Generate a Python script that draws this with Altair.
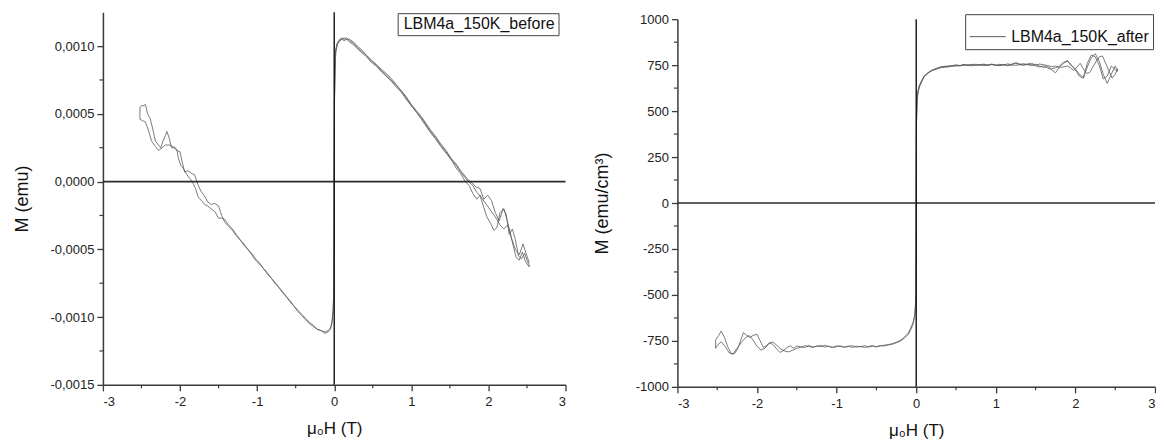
import altair as alt
import pandas as pd

FONT = "Liberation Sans"

# ---------------- Left panel: M (emu), values in units of 1e-4 emu ----------------
L_INIT_H = [0.003, 0.01, 0.02, 0.04, 0.07, 0.1, 0.13, 0.16, 0.2, 0.25, 0.3, 0.36, 0.42, 0.48, 0.55, 0.61,
            0.67, 0.74, 0.8, 0.87, 0.93, 1.0, 1.07, 1.13, 1.19, 1.25, 1.32, 1.38, 1.45, 1.52, 1.58, 1.64,
            1.70, 1.75, 1.80, 1.85, 1.89, 1.94, 1.98, 2.03, 2.07, 2.11, 2.15, 2.2, 2.24, 2.28, 2.32, 2.36,
            2.40, 2.44, 2.48, 2.53]
L_INIT_M = [5.5, 8.3, 9.6, 10.1, 10.4, 10.5, 10.4, 10.5, 10.3, 10.1, 9.8, 9.5, 9.2, 8.8, 8.5, 8.1,
            7.8, 7.4, 7.0, 6.6, 6.1, 5.6, 5.1, 4.6, 4.1, 3.6, 3.1, 2.6, 2.1, 1.6, 1.0, 0.6,
            0.0, -0.3, -0.9, -1.3, -1.0, -1.9, -2.6, -3.1, -3.6, -3.4, -2.3, -2.0, -2.8, -3.7, -4.7, -5.6,
            -5.8, -5.2, -5.9, -6.3]

L_DOWN_H = [2.53, 2.50, 2.47, 2.43, 2.39, 2.35, 2.31, 2.27, 2.23, 2.19, 2.14, 2.09, 2.04, 1.99, 1.94, 1.89,
            1.84, 1.79, 1.74, 1.70, 1.64, 1.58, 1.52, 1.45, 1.38, 1.32, 1.25, 1.19, 1.13, 1.07, 1.0, 0.93,
            0.87, 0.8, 0.74, 0.67, 0.61, 0.55, 0.48, 0.42, 0.36, 0.3, 0.25, 0.2, 0.16, 0.13, 0.1, 0.07,
            0.04, 0.02, 0.01, 0.003,
            -0.005, -0.015, -0.03, -0.05, -0.08, -0.12, -0.17, -0.22, -0.27, -0.32, -0.37, -0.42, -0.47, -0.52,
            -0.57, -0.62, -0.67, -0.72, -0.77, -0.82, -0.87, -0.92, -0.97, -1.02, -1.07, -1.12, -1.17, -1.22,
            -1.27, -1.32, -1.37, -1.42, -1.46, -1.50, -1.55, -1.60, -1.64, -1.68, -1.72, -1.76, -1.80, -1.84,
            -1.87, -1.91, -1.96, -1.99, -2.02, -2.04, -2.06, -2.10, -2.14, -2.19, -2.23, -2.28, -2.32, -2.37,
            -2.41, -2.45, -2.49, -2.52]
L_DOWN_M = [-6.2, -5.8, -5.3, -5.7, -5.5, -4.3, -3.5, -3.9, -2.4, -2.0, -2.9, -2.3, -1.4, -1.0, -1.3, -0.5,
            -0.4, -0.1, 0.1, 0.4, 0.8, 1.3, 1.7, 2.3, 2.8, 3.3, 3.8, 4.3, 4.8, 5.2, 5.7, 6.3,
            6.7, 7.2, 7.6, 8.0, 8.3, 8.6, 9.0, 9.3, 9.7, 10.0, 10.3, 10.5, 10.5, 10.6, 10.5, 10.4,
            10.2, 9.6, 8.0, 6.0,
            -8.2, -9.6, -10.5, -10.9, -11.1, -11.2, -11.0, -10.9, -10.6, -10.4, -10.1, -9.8, -9.5, -9.2,
            -8.8, -8.5, -8.1, -7.8, -7.4, -7.1, -6.7, -6.4, -6.0, -5.7, -5.3, -5.0, -4.6, -4.3,
            -3.9, -3.5, -3.2, -2.8, -2.7, -2.7, -2.2, -2.0, -1.8, -1.7, -1.4, -1.2, -0.5, 0.0,
            0.2, 0.5, 1.0, 1.2, 1.7, 2.3, 2.5, 2.6, 2.7, 2.7, 2.5, 2.3, 2.6, 3.0,
            3.8, 4.4, 4.5, 4.6]

L_UP_H = [-2.52, -2.50, -2.47, -2.45, -2.42, -2.39, -2.35, -2.32, -2.28, -2.25, -2.22, -2.19, -2.17, -2.14,
          -2.11, -2.08, -2.04, -2.00, -1.97, -1.94, -1.90, -1.85, -1.81, -1.77, -1.73, -1.69, -1.64, -1.59,
          -1.55, -1.50, -1.46, -1.42, -1.37, -1.32, -1.27, -1.22, -1.17, -1.12, -1.07, -1.02, -0.97, -0.92,
          -0.87, -0.82, -0.77, -0.72, -0.67, -0.62, -0.57, -0.52, -0.47, -0.42, -0.37, -0.32, -0.27, -0.22,
          -0.17, -0.12, -0.08, -0.05, -0.03, -0.015, -0.005,
          0.003, 0.01, 0.02, 0.04, 0.07, 0.1, 0.13, 0.16, 0.2, 0.25, 0.3, 0.36, 0.42, 0.48, 0.55, 0.61,
          0.67, 0.74, 0.8, 0.87, 0.93, 1.0, 1.07, 1.13, 1.19, 1.25, 1.32, 1.38, 1.45, 1.52, 1.58, 1.64,
          1.71, 1.76, 1.80, 1.85, 1.90, 1.95, 2.0, 2.05, 2.1, 2.15, 2.2, 2.25, 2.3, 2.35, 2.4, 2.45, 2.5, 2.53]
L_UP_M = [5.5, 5.6, 5.6, 5.7, 5.0, 4.7, 3.8, 3.0, 2.7, 2.5, 3.0, 3.4, 3.7, 3.2,
          2.5, 2.5, 2.3, 2.2, 1.4, 0.7, 0.8, 0.6, 0.5, -0.2, -0.7, -1.0, -1.5, -1.7,
          -1.6, -1.8, -2.5, -3.0, -3.3, -3.6, -4.0, -4.3, -4.7, -5.0, -5.4, -5.8, -6.1, -6.4,
          -6.8, -7.1, -7.5, -7.8, -8.2, -8.5, -8.9, -9.2, -9.6, -9.9, -10.2, -10.5, -10.7, -10.9,
          -11.0, -11.1, -11.0, -10.8, -10.4, -9.5, -8.0,
          6.0, 8.6, 9.8, 10.2, 10.5, 10.6, 10.5, 10.6, 10.4, 10.2, 9.9, 9.6, 9.3, 8.9, 8.6, 8.2,
          7.9, 7.5, 7.1, 6.7, 6.2, 5.6, 5.1, 4.7, 4.2, 3.7, 3.2, 2.7, 2.2, 1.6, 1.2, 0.7,
          0.2, -0.1, -0.3, -0.8, -1.1, -1.5, -1.9, -2.3, -2.7, -3.2, -3.5, -3.2, -4.2, -5.0, -5.4, -4.6, -5.5, -6.0]

# ---------------- Right panel: M (emu/cm^3) ----------------
R_INIT_H = [0.003, 0.01, 0.02, 0.04, 0.07, 0.1, 0.15, 0.2, 0.25, 0.3, 0.35, 0.4, 0.45, 0.5, 0.55, 0.6,
            0.65, 0.7, 0.75, 0.8, 0.85, 0.9, 0.95, 1.0, 1.05, 1.1, 1.15, 1.2, 1.25, 1.3, 1.35, 1.4,
            1.45, 1.5, 1.55, 1.6, 1.65, 1.7, 1.75, 1.8, 1.85, 1.9, 1.95, 2.0, 2.05, 2.1, 2.15, 2.2,
            2.25, 2.3, 2.35, 2.4, 2.45, 2.5, 2.53]
R_INIT_M = [420, 540, 600, 635, 665, 690, 710, 722, 732, 738, 744, 742, 748, 750, 746, 753,
            750, 755, 748, 752, 756, 749, 753, 751, 747, 752, 749, 756, 760, 754, 758, 752,
            748, 755, 745, 738, 742, 730, 736, 745, 765, 775, 750, 728, 700, 685, 740, 790,
            812, 770, 700, 650, 700, 745, 720]

R_DOWN_H = [2.53, 2.5, 2.46, 2.42, 2.38, 2.34, 2.3, 2.26, 2.22, 2.18, 2.14, 2.1, 2.06, 2.02, 1.98, 1.94,
            1.9, 1.85, 1.8, 1.75, 1.7, 1.65, 1.6, 1.55, 1.5, 1.45, 1.4, 1.35, 1.3, 1.25, 1.2, 1.15,
            1.1, 1.05, 1.0, 0.95, 0.9, 0.85, 0.8, 0.75, 0.7, 0.65, 0.6, 0.55, 0.5, 0.45, 0.4, 0.35,
            0.3, 0.25, 0.2, 0.15, 0.1, 0.07, 0.04, 0.02, 0.01, 0.003,
            -0.003, -0.01, -0.02, -0.04, -0.07, -0.1, -0.15, -0.2, -0.25, -0.3, -0.35, -0.4, -0.45, -0.5,
            -0.55, -0.6, -0.65, -0.7, -0.75, -0.8, -0.85, -0.9, -0.95, -1.0, -1.05, -1.1, -1.15, -1.2,
            -1.25, -1.3, -1.35, -1.4, -1.45, -1.5, -1.55, -1.6, -1.65, -1.7, -1.75, -1.8, -1.85, -1.9,
            -1.95, -2.0, -2.05, -2.1, -2.15, -2.2, -2.25, -2.3, -2.35, -2.4, -2.45, -2.5, -2.52]
R_DOWN_M = [730, 700, 680, 720, 760, 800, 795, 770, 740, 710, 705, 730, 760, 740, 720, 735,
            745, 740, 738, 745, 742, 748, 752, 756, 750, 760, 755, 750, 752, 749, 751, 746,
            753, 750, 748, 754, 751, 747, 753, 750, 746, 752, 749, 747, 745, 744, 740, 738,
            735, 728, 720, 708, 690, 668, 640, 605, 560, 460,
            -480, -570, -620, -660, -690, -715, -735, -752, -760, -768, -772, -778, -775, -782,
            -778, -784, -776, -783, -779, -786, -778, -784, -781, -777, -785, -780, -774, -782,
            -778, -786, -780, -776, -785, -790, -800, -810, -805, -795, -775, -755, -765, -790,
            -800, -780, -745, -720, -735, -760, -790, -820, -815, -780, -755, -775, -790]

R_UP_H = [-2.52, -2.48, -2.45, -2.41, -2.37, -2.32, -2.28, -2.24, -2.2, -2.17, -2.13, -2.09, -2.05, -2.0,
          -1.96, -1.92, -1.88, -1.84, -1.8, -1.75, -1.71, -1.66, -1.62, -1.58, -1.54, -1.5, -1.45, -1.4,
          -1.35, -1.3, -1.25, -1.2, -1.15, -1.1, -1.05, -1.0, -0.95, -0.9, -0.85, -0.8, -0.75, -0.7,
          -0.65, -0.6, -0.55, -0.5, -0.45, -0.4, -0.35, -0.3, -0.25, -0.2, -0.15, -0.1, -0.07, -0.04,
          -0.02, -0.01, -0.003,
          0.003, 0.01, 0.02, 0.04, 0.07, 0.1, 0.15, 0.2, 0.25, 0.3, 0.35, 0.4, 0.45, 0.5, 0.55, 0.6,
          0.65, 0.7, 0.75, 0.8, 0.85, 0.9, 0.95, 1.0, 1.05, 1.1, 1.15, 1.2, 1.25, 1.3, 1.35, 1.4,
          1.45, 1.5, 1.55, 1.6, 1.65, 1.7, 1.75, 1.8, 1.85, 1.9, 1.95, 2.0, 2.05, 2.1, 2.15, 2.2,
          2.25, 2.3, 2.35, 2.4, 2.45, 2.5, 2.53]
R_UP_M = [-745, -720, -696, -730, -780, -822, -818, -790, -740, -705, -720, -732, -720, -714,
          -750, -786, -775, -759, -770, -795, -813, -800, -785, -777, -790, -778, -782, -786,
          -775, -783, -780, -774, -784, -779, -786, -781, -777, -785, -780, -776, -784, -779,
          -786, -780, -776, -782, -778, -773, -770, -765, -757, -748, -730, -708, -680, -650,
          -610, -560, -470,
          430, 550, 598, 632, 660, 688, 706, 724, 730, 740, 742, 746, 745, 751, 748, 754,
          747, 752, 755, 749, 753, 750, 756, 749, 754, 751, 757, 752, 764, 756, 750, 757,
          752, 746, 740, 746, 735, 725, 708, 740, 760, 772, 745, 725, 690, 678, 760, 805,
          795, 748, 675, 690, 745, 725, 715]

# Axis tick values
X_MAJOR = [-3, -2, -1, 0, 1, 2, 3]
X_MINOR = [-2.5, -1.5, -0.5, 0.5, 1.5, 2.5]
L_MAJOR = [-0.0015, -0.001, -0.0005, 0.0, 0.0005, 0.001]
L_MINOR = [-0.00125, -0.00075, -0.00025, 0.00025, 0.00075]
R_MAJOR = [-1000, -750, -500, -250, 0, 250, 500, 750, 1000]
R_MINOR = [-875, -625, -375, -125, 125, 375, 625, 875]

LEFT_NAME = "LBM4a_150K_before"
RIGHT_NAME = "LBM4a_150K_after"

# both panels share one cell height; each y scale spans its own pixel band inside it
CELL_H = 375
LW, RW = 463, 478
L_TOP, L_BOT = 0, 373
R_TOP, R_BOT = 7, 375

AX = "#3a3a3a"


def sweep_frame(hs, ms, name, factor=1.0):
    H, M = [], []
    for h_list, m_list in zip(hs, ms):
        H += h_list
        M += [v * factor for v in m_list]
    return pd.DataFrame({"H": H, "M": M, "i": list(range(len(H))), "s": name})


left_df = sweep_frame([L_INIT_H, L_DOWN_H, L_UP_H], [L_INIT_M, L_DOWN_M, L_UP_M], LEFT_NAME, 1e-4)
right_df = sweep_frame([R_INIT_H, R_DOWN_H, R_UP_H], [R_INIT_M, R_DOWN_M, R_UP_M], RIGHT_NAME, 1.0)

int_label = "(datum.value < 0 ? '-' : '') + format(abs(datum.value), 'd')"
dec_label = "(datum.value < -1e-9 ? '-' : '') + replace(format(abs(datum.value), '.4f'), '.', ',')"


def axis_common(**kw):
    base = dict(grid=False, domainColor=AX, domainWidth=1.5, tickColor=AX, tickWidth=1.3,
                tickSize=6, labelFont=FONT, labelFontSize=13, labelColor="#222",
                titleFont=FONT, titleFontWeight="normal", titleColor="#111")
    base.update(kw)
    return alt.Axis(**base)


def panel(df, ydomain, ymajor, yminor, ylabel_expr, ytitle, w, top, bot, legend, ytitle_pad):
    xs = alt.Scale(domain=[-3, 3], nice=False, zero=False)
    ys = alt.Scale(domain=ydomain, nice=False, zero=False, range=[bot, top])
    xaxis = axis_common(values=X_MAJOR, labelExpr=int_label, titleFontSize=17,
                        labelPadding=5, titlePadding=12, offset=bot - CELL_H)
    yaxis = axis_common(values=ymajor, labelExpr=ylabel_expr, titleFontSize=18,
                        labelPadding=3, titlePadding=ytitle_pad)
    X = alt.X("H:Q", scale=xs, axis=xaxis, title="μ₀H (T)")
    Y = alt.Y("M:Q", scale=ys, axis=yaxis, title=ytitle)
    curves = alt.Chart(df).mark_line(strokeWidth=0.8, color="#555").encode(
        x=X, y=Y,
        order=alt.Order("i:Q"),
        color=alt.Color("s:N", scale=alt.Scale(range=["#5a5a5a"]), legend=legend),
    )
    hzero = alt.Chart(pd.DataFrame({"M": [0]})).mark_rule(color="#2a2a2a", strokeWidth=1.6).encode(y=Y)
    vzero = alt.Chart(pd.DataFrame({"H": [0]})).mark_rule(color="#111", strokeWidth=1.4).encode(
        x=X, y=alt.value(top), y2=alt.value(bot))
    yminor_ticks = alt.Chart(pd.DataFrame({"M": yminor})).mark_rule(color=AX, strokeWidth=1.2).encode(
        y=Y, x=alt.value(0), x2=alt.value(-3.5))
    xminor_ticks = alt.Chart(pd.DataFrame({"H": X_MINOR})).mark_rule(color=AX, strokeWidth=1.2).encode(
        x=X, y=alt.value(bot), y2=alt.value(bot + 3.5))
    return alt.layer(curves, hzero, vzero, yminor_ticks, xminor_ticks).properties(width=w, height=CELL_H)


left_legend = alt.Legend(title=None, orient="none", legendX=295, legendY=1, strokeColor="#444",
                         fillColor="white", padding=3, labelFontSize=16, labelFont=FONT,
                         labelColor="#111", symbolSize=1, symbolStrokeWidth=0, symbolOpacity=0,
                         labelOffset={"expr": "-13"}, cornerRadius=0)
right_legend = alt.Legend(title=None, orient="none", legendX=288, legendY=2, strokeColor="#444",
                          fillColor="white", padding=4, labelFontSize=16, labelFont=FONT,
                          labelColor="#111", symbolType="stroke", symbolSize=1296,
                          symbolStrokeWidth=1, symbolStrokeColor="#777", labelOffset=5,
                          cornerRadius=0)

left = panel(left_df, [-0.0015, 0.00125], L_MAJOR, L_MINOR, dec_label, "M (emu)", LW, L_TOP, L_BOT,
             left_legend, 18)
right = panel(right_df, [-1000, 1000], R_MAJOR, R_MINOR, int_label, "M (emu/cm³)", RW, R_TOP, R_BOT,
              right_legend, 24)

chart = alt.hconcat(left, right, spacing=26).resolve_scale(
    x="independent", y="independent", color="independent"
).resolve_legend(color="independent").properties(
    padding={"left": 5, "top": 3, "right": 0, "bottom": 0}
).configure_view(strokeWidth=0)

chart.save("out.html", embed_options={"renderer": "svg", "actions": False})
